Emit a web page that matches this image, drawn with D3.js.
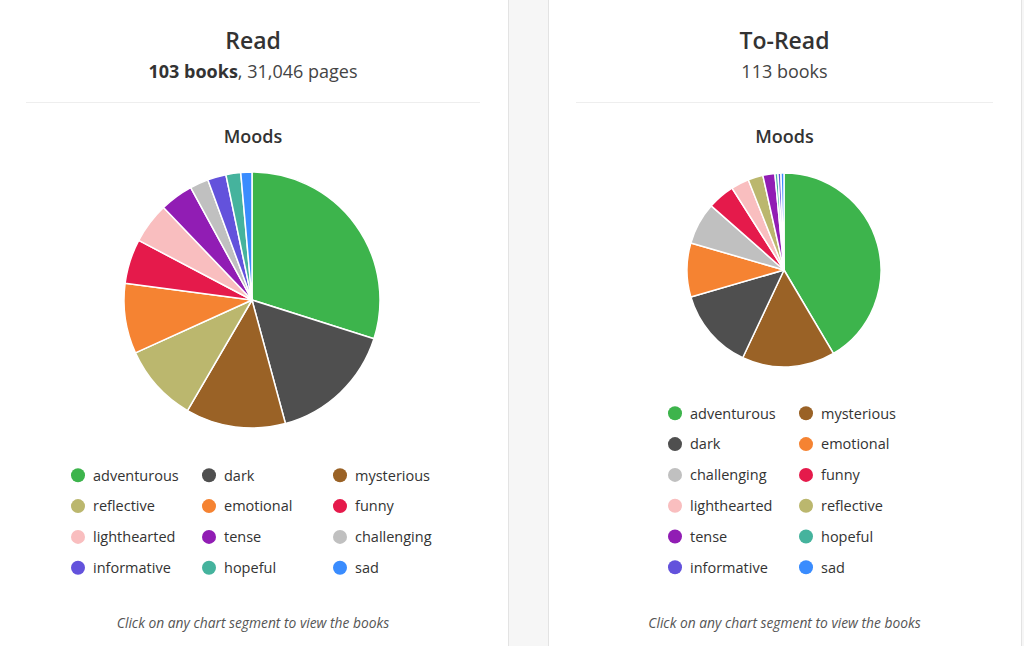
<!DOCTYPE html>
<html>
<head>
<meta charset="utf-8">
<script src="https://cdn.jsdelivr.net/npm/d3@7"></script>
<style>
  html, body { margin: 0; padding: 0; background: #f6f6f6; overflow: hidden; }
  svg { display: block; font-family: "Open Sans", sans-serif; }
</style>
</head>
<body>
<svg id="chart" width="1024" height="646"></svg>
<script>
// ---- Data ----
const readMoods = ["adventurous","dark","mysterious","reflective","emotional","funny","lighthearted","tense","challenging","informative","hopeful","sad"];
const readCounts = [64, 34, 27, 21, 19, 12, 11, 9, 5, 5, 4, 3];

const toReadMoods = ["adventurous","mysterious","dark","emotional","challenging","funny","lighthearted","reflective","tense","hopeful","informative","sad"];
const toReadCounts = [83, 31, 27, 18, 14, 9, 6, 5, 4, 1, 1, 1];

const moodColors = {
  adventurous: "#3db44c",
  dark: "#4f4f4f",
  mysterious: "#9a6226",
  reflective: "#bbb76e",
  emotional: "#f58332",
  funny: "#e51a4b",
  lighthearted: "#f9bebf",
  tense: "#911db4",
  challenging: "#c0c0c0",
  informative: "#6352dc",
  hopeful: "#45b39d",
  sad: "#3a8cfe"
};

const svg = d3.select("#chart");

const cards = [
  {x: -2, w: 510, title: "Read", boldSub: "103 books", sub: ", 31,046 pages",
   moods: readMoods, counts: readCounts, cy: 300, r: 128, cols: 3,
   legX: [78, 209, 340], legY0: 475.3},
  {x: 548, w: 473, title: "To-Read", boldSub: "", sub: "113 books",
   moods: toReadMoods, counts: toReadCounts, cy: 270, r: 97, cols: 2,
   legX: [675, 806], legY0: 413.3}
];

cards.forEach(c => {
  const g = svg.append("g");
  g.append("rect")
    .attr("x", c.x + 0.5).attr("y", -10.5)
    .attr("width", c.w).attr("height", 700)
    .attr("rx", 8)
    .attr("fill", "#fff")
    .attr("stroke", "#e3e3e3")
    .attr("stroke-width", 1);

  const cx = c.x + c.w / 2;

  g.append("text")
    .attr("x", cx).attr("y", 49)
    .attr("text-anchor", "middle")
    .attr("font-size", 23).attr("font-weight", 600)
    .attr("fill", "#333")
    .text(c.title);

  const sub = g.append("text")
    .attr("x", cx).attr("y", 78)
    .attr("text-anchor", "middle")
    .attr("font-size", 18)
    .attr("fill", "#444");
  if (c.boldSub) sub.append("tspan").attr("font-weight", 700).attr("fill", "#333").text(c.boldSub);
  sub.append("tspan").text(c.sub);

  g.append("line")
    .attr("x1", c.x + 28).attr("x2", c.x + c.w - 28)
    .attr("y1", 102.5).attr("y2", 102.5)
    .attr("stroke", "#eeeeee").attr("stroke-width", 1);

  g.append("text")
    .attr("x", cx).attr("y", 143)
    .attr("text-anchor", "middle")
    .attr("font-size", 18).attr("font-weight", 600)
    .attr("fill", "#333")
    .text("Moods");

  // pie
  const data = c.moods.map((m, i) => ({mood: m, value: c.counts[i]}));
  const pie = d3.pie().value(d => d.value).sort(null);
  const arc = d3.arc().innerRadius(0).outerRadius(c.r);
  const pcx = Math.round(cx) - 1;
  g.append("g")
    .attr("transform", `translate(${pcx},${c.cy})`)
    .selectAll("path")
    .data(pie(data))
    .join("path")
    .attr("d", arc)
    .attr("fill", d => moodColors[d.data.mood])
    .attr("stroke", "#fff")
    .attr("stroke-width", 1.5)
    .attr("stroke-linejoin", "round");

  // legend
  const leg = g.append("g");
  data.forEach((d, i) => {
    const col = i % c.cols, row = Math.floor(i / c.cols);
    const lx = c.legX[col], ly = c.legY0 + row * 30.8;
    leg.append("circle")
      .attr("cx", lx).attr("cy", ly).attr("r", 7)
      .attr("fill", moodColors[d.mood]);
    leg.append("text")
      .attr("x", lx + 15).attr("y", ly + 5.2)
      .attr("font-size", 14.5).attr("fill", "#333")
      .text(d.mood);
  });

  g.append("text")
    .attr("x", cx).attr("y", 628)
    .attr("text-anchor", "middle")
    .attr("font-size", 13.8).attr("font-style", "italic")
    .attr("fill", "#555")
    .text("Click on any chart segment to view the books");
});
</script>
</body>
</html>
